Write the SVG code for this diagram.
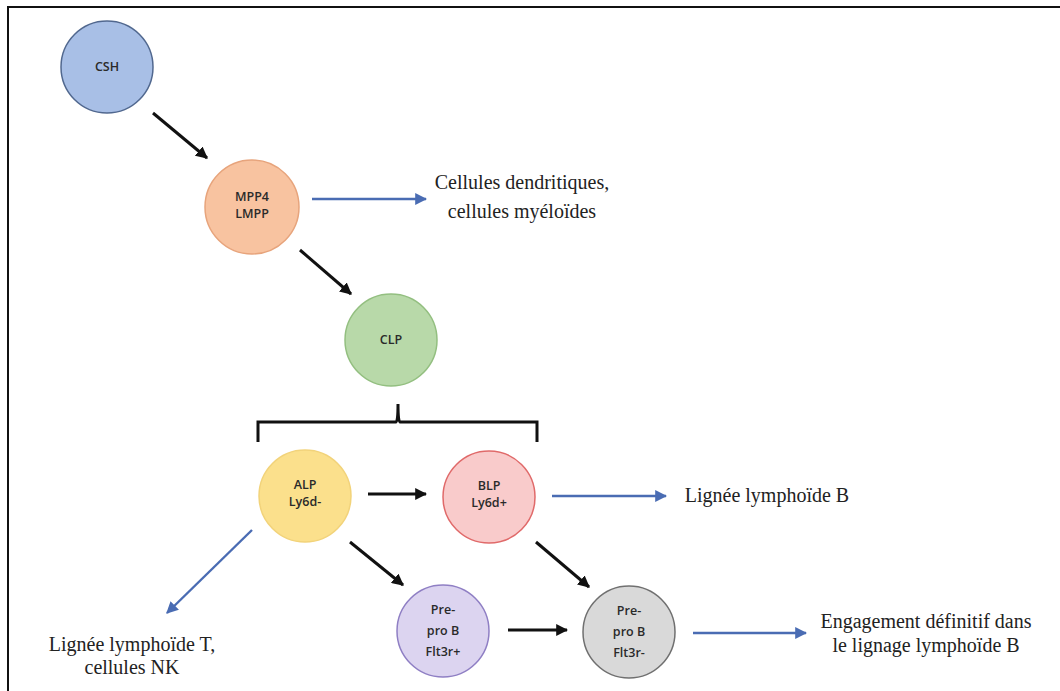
<svg xmlns="http://www.w3.org/2000/svg" width="1060" height="691" viewBox="0 0 1060 691">
<defs>
<marker id="ab" viewBox="0 0 10 10" refX="9" refY="5" markerWidth="4" markerHeight="4" orient="auto" markerUnits="strokeWidth"><path d="M0,0 L10,5 L0,10 Z" fill="#111"/></marker>
<marker id="au" viewBox="0 0 10 10" refX="9" refY="5" markerWidth="5" markerHeight="5" orient="auto" markerUnits="strokeWidth"><path d="M0,0 L10,5 L0,10 Z" fill="#4a6cb3"/></marker>
<style>
.lbl{font-family:"Open Sans","Liberation Sans",sans-serif;font-size:12.5px;font-weight:600;fill:#2a2a2a;text-anchor:middle}
.txt{font-family:"Liberation Serif",serif;font-size:20px;fill:#222;text-anchor:middle}
.blk{stroke:#111;stroke-width:3;fill:none;marker-end:url(#ab)}
.blu{stroke:#4a6cb3;stroke-width:2.4;fill:none;marker-end:url(#au)}
.node{stroke-width:1.5}
</style>
</defs>
<rect x="0" y="0" width="1060" height="691" fill="#fff"/>
<rect x="8" y="7" width="1070" height="710" fill="none" stroke="#111" stroke-width="2"/>
<g id="CSH"><circle class="node" cx="107" cy="67" r="46" fill="#a8bfe6" stroke="#51688f"/><text class="lbl" x="107" y="71">CSH</text></g>
<g id="MPP4"><circle class="node" cx="252" cy="207" r="47" fill="#f8c3a0" stroke="#e7a47c"/><text class="lbl" x="252" y="201">MPP4</text><text class="lbl" x="252" y="218">LMPP</text></g>
<g id="CLP"><circle class="node" cx="391" cy="340" r="46" fill="#b8d9a9" stroke="#93bf80"/><text class="lbl" x="391" y="344">CLP</text></g>
<g id="ALP"><circle class="node" cx="305" cy="496" r="46" fill="#fbe08c" stroke="#f2d37a"/><text class="lbl" x="305" y="489">ALP</text><text class="lbl" x="305" y="506">Ly6d-</text></g>
<g id="BLP"><circle class="node" cx="489" cy="497" r="46" fill="#f9cbcb" stroke="#e06a6a"/><text class="lbl" x="489" y="490">BLP</text><text class="lbl" x="489" y="507">Ly6d+</text></g>
<g id="PreproBplus"><circle class="node" cx="443" cy="631" r="46" fill="#dcd4f0" stroke="#8f7fc4"/><text class="lbl" x="443" y="614">Pre-</text><text class="lbl" x="443" y="635">pro B</text><text class="lbl" x="443" y="656">Flt3r+</text></g>
<g id="PreproBminus"><circle class="node" cx="629" cy="632" r="46" fill="#d9d9d9" stroke="#707070"/><text class="lbl" x="629" y="615">Pre-</text><text class="lbl" x="629" y="636">pro B</text><text class="lbl" x="629" y="657">Flt3r-</text></g>
<g id="brace"><path d="M258,442 V422 H396 Q398,422 398,404 Q398,422 400,422 H537 V442" fill="none" stroke="#111" stroke-width="3"/></g>
<g id="labels">
<text class="txt" x="522" y="189">Cellules dendritiques,</text>
<text class="txt" x="522" y="218">cellules myéloïdes</text>
<text class="txt" x="767" y="502">Lignée lymphoïde B</text>
<text class="txt" x="926" y="628">Engagement définitif dans</text>
<text class="txt" x="926" y="652">le lignage lymphoïde B</text>
<text class="txt" x="132" y="651">Lignée lymphoïde T,</text>
<text class="txt" x="132" y="674">cellules NK</text>
</g>
<g id="connectors">
<line class="blk" x1="153" y1="113" x2="207" y2="158"/>
<line class="blk" x1="300" y1="250" x2="351" y2="294"/>
<line class="blk" x1="368" y1="494" x2="426" y2="494"/>
<line class="blk" x1="350" y1="542" x2="403" y2="585"/>
<line class="blk" x1="536" y1="542" x2="589" y2="587"/>
<line class="blk" x1="508" y1="630" x2="567" y2="630"/>
<line class="blu" x1="312" y1="199" x2="426" y2="199"/>
<line class="blu" x1="552" y1="496" x2="666" y2="496"/>
<line class="blu" x1="693" y1="633" x2="806" y2="633"/>
<line class="blu" x1="252" y1="530" x2="167" y2="613"/>
</g>
</svg>
